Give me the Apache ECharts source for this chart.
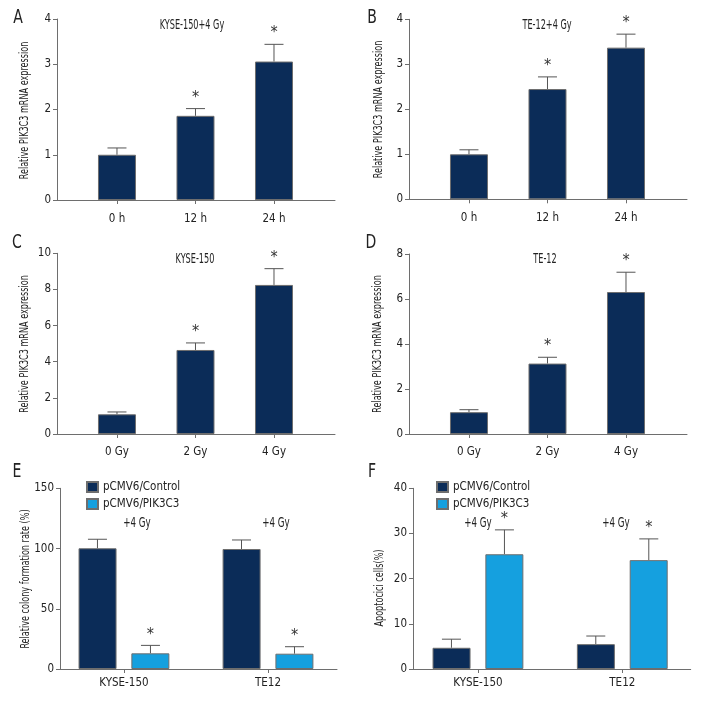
<!DOCTYPE html>
<html><head><meta charset="utf-8">
<script src="https://cdn.jsdelivr.net/npm/echarts@6/dist/echarts.min.js"></script>
<style>html,body{margin:0;padding:0;background:#fff}#c{width:708px;height:708px}</style>
</head><body><div id="c"></div>
<script>
const FONT = '"DejaVu Sans Condensed","Liberation Sans",sans-serif';
const NAVY = '#0b2c58';
const CYAN = '#15a0df';
const EDGE = '#6e6e6e';

// ---- data ----
const timeCats = ['0 h', '12 h', '24 h'];
const doseCats = ['0 Gy', '2 Gy', '4 Gy'];
const cellCats = ['KYSE-150', 'TE12'];
const groupNames = ['pCMV6/Control', 'pCMV6/PIK3C3'];

const aVals = [1.00, 1.86, 3.06]; const aErr = [0.15, 0.16, 0.38]; const aSig = [0, 1, 1];
const bVals = [1.00, 2.45, 3.37]; const bErr = [0.10, 0.27, 0.30]; const bSig = [0, 1, 1];
const cVals = [1.09, 4.65, 8.25]; const cErr = [0.13, 0.39, 0.90]; const cSig = [0, 1, 1];
const dVals = [0.97, 3.13, 6.31]; const dErr = [0.11, 0.28, 0.88]; const dSig = [0, 1, 1];

const eCtrl = [100.2, 99.6]; const eCtrlErr = [7.5, 7.5]; const eCtrlSig = [0, 0];
const ePik = [13.0, 12.7];   const ePikErr = [6.6, 5.8];  const ePikSig = [1, 1];
const fCtrl = [4.7, 5.5];    const fCtrlErr = [1.9, 1.8]; const fCtrlSig = [0, 0];
const fPik = [25.4, 24.1];   const fPikErr = [5.4, 4.7];  const fPikSig = [1, 1];

const yTitles = ['Relative PIK3C3 mRNA expression', 'Relative PIK3C3 mRNA expression',
  'Relative PIK3C3 mRNA expression', 'Relative PIK3C3 mRNA expression',
  'Relative colony formation rate (%)', 'Apoptocici cells(%)'];
const panelTitles = ['KYSE-150+4 Gy', 'TE-12+4 Gy', 'KYSE-150', 'TE-12'];
const doseNote = '+4 Gy';
const letters = ['A', 'B', 'C', 'D', 'E', 'F'];

// ---- layout ----
const layout = [
  {grid: {left: 57, top: 19, width: 278, height: 181}, xMin: -0.764, xMax: 2.777, yMax: 4, yInt: 1, cats: timeCats, nameX: 25, nameY: 110.5, lm: 13},
  {grid: {left: 409, top: 19.3, width: 278, height: 180}, xMin: -0.764, xMax: 2.777, yMax: 4, yInt: 1, cats: timeCats, nameX: 378.7, nameY: 109.5, lm: 13},
  {grid: {left: 57, top: 253.3, width: 278, height: 180.7}, xMin: -0.764, xMax: 2.777, yMax: 10, yInt: 2, cats: doseCats, nameX: 25, nameY: 344, lm: 12},
  {grid: {left: 409, top: 254, width: 278, height: 180}, xMin: -0.764, xMax: 2.777, yMax: 8, yInt: 2, cats: doseCats, nameX: 377.8, nameY: 344, lm: 12},
  {grid: {left: 60, top: 488.3, width: 277, height: 180.7}, xMin: -0.444, xMax: 1.479, yMax: 150, yInt: 50, cats: cellCats, nameX: 25.7, nameY: 579, lm: 8},
  {grid: {left: 413, top: 488.3, width: 277.7, height: 180.7}, xMin: -0.45, xMax: 1.474, yMax: 40, yInt: 10, cats: cellCats, nameX: 379.3, nameY: 588, lm: 8}
];

const axisLineStyle = {color: EDGE, width: 1};
const grids = [], xAxes = [], yAxes = [];
layout.forEach((p, k) => {
  grids.push(p.grid);
  const cats = p.cats;
  const idx = cats.map((c, i) => i);
  xAxes.push({
    gridIndex: k, type: 'value', min: p.xMin, max: p.xMax,
    axisLine: {show: true, onZero: false, lineStyle: axisLineStyle},
    axisTick: {show: true, length: 4, customValues: idx, lineStyle: axisLineStyle},
    axisLabel: {customValues: idx, formatter: v => cats[Math.round(v)], fontFamily: FONT, fontSize: 11.5, color: '#222', margin: p.lm},
    splitLine: {show: false}
  });
  yAxes.push({
    gridIndex: k, type: 'value', min: 0, max: p.yMax, interval: p.yInt,
    axisLine: {show: true, onZero: false, lineStyle: axisLineStyle},
    axisTick: {show: true, length: 4, lineStyle: axisLineStyle},
    axisLabel: {fontFamily: FONT, fontSize: 11.5, color: '#222', margin: 6},
    splitLine: {show: false}
  });
});

function errSeries(k, vals, errs, sigs, offset) {
  return {
    type: 'custom', xAxisIndex: k, yAxisIndex: k, z: 1, silent: true,
    data: vals.map((v, i) => [i, v, errs[i], sigs[i]]),
    renderItem: (params, api) => {
      const x = api.value(0), v = api.value(1), e = api.value(2), s = api.value(3);
      const p0 = api.coord([x, v]);
      const p1 = api.coord([x, v + e]);
      const cx = p0[0] + offset;
      const children = [
        {type: 'line', shape: {x1: cx, y1: p0[1], x2: cx, y2: p1[1]}, style: {stroke: '#555', lineWidth: 1}},
        {type: 'line', shape: {x1: cx - 9.5, y1: p1[1], x2: cx + 9.5, y2: p1[1]}, style: {stroke: '#555', lineWidth: 1}}
      ];
      if (s) children.push({type: 'text', x: cx, y: p1[1] - 3,
        style: {text: '*', fontFamily: FONT, fontSize: 16, fill: '#333', align: 'center', verticalAlign: 'bottom'}});
      return {type: 'group', children};
    }
  };
}
function barSeries(k, name, vals, color, extra) {
  return Object.assign({
    type: 'bar', name, xAxisIndex: k, yAxisIndex: k, z: 2, barWidth: 38,
    data: vals.map((v, i) => [i, v]),
    itemStyle: {color, borderColor: EDGE, borderWidth: 1}
  }, extra || {});
}

const series = [];
[[aVals, aErr, aSig], [bVals, bErr, bSig], [cVals, cErr, cSig], [dVals, dErr, dSig]].forEach((d, k) => {
  series.push(barSeries(k, 'single' + k, d[0], NAVY));
  series.push(errSeries(k, d[0], d[1], d[2], 0));
});
[[4, eCtrl, eCtrlErr, eCtrlSig, ePik, ePikErr, ePikSig], [5, fCtrl, fCtrlErr, fCtrlSig, fPik, fPikErr, fPikSig]].forEach(d => {
  const k = d[0];
  series.push(barSeries(k, groupNames[0], d[1], NAVY, {barGap: '39%'}));
  series.push(barSeries(k, groupNames[1], d[4], CYAN, {barGap: '39%'}));
  series.push(errSeries(k, d[1], d[2], d[3], -26.5));
  series.push(errSeries(k, d[4], d[5], d[6], 26.5));
});

const txt = (text, x, y, size, sx, rot) => ({type: 'text', x, y, silent: true, scaleX: sx || 1, rotation: rot || 0,
  style: {text, fontFamily: FONT, fontSize: size, fill: '#222', align: 'center', verticalAlign: 'middle'}});
const letterPos = [[18, 18], [372, 18], [17, 243], [371, 243], [17, 472], [372, 472]];
const titlePos = [[192, 25], [547, 25], [195, 259], [545, 259]];
const graphics = [];
letters.forEach((l, i) => graphics.push(txt(l, letterPos[i][0], letterPos[i][1], 19, 0.82)));
panelTitles.forEach((t, i) => graphics.push(txt(t, titlePos[i][0], titlePos[i][1], 13.5, 0.67)));
[[137, 523], [276, 523], [478, 523], [616, 523]].forEach(p => graphics.push(txt(doseNote, p[0], p[1], 14, 0.69)));
layout.forEach((p, k) => graphics.push(txt(yTitles[k], p.nameX, p.nameY, 12.5, 0.72, Math.PI / 2)));

const legendBase = {orient: 'vertical', itemWidth: 11, itemHeight: 10, itemGap: 5, padding: 0, data: groupNames,
  icon: 'rect', textStyle: {fontFamily: FONT, fontSize: 11.5, color: '#222'}, selectedMode: false};

const chart = echarts.init(document.getElementById('c'), null, {renderer: 'canvas'});
chart.setOption({
  backgroundColor: '#fff',
  animation: false,
  grid: grids, xAxis: xAxes, yAxis: yAxes, series,
  legend: [Object.assign({left: 86, top: 481}, legendBase), Object.assign({left: 436, top: 481}, legendBase)],
  graphic: graphics
});
</script></body></html>
